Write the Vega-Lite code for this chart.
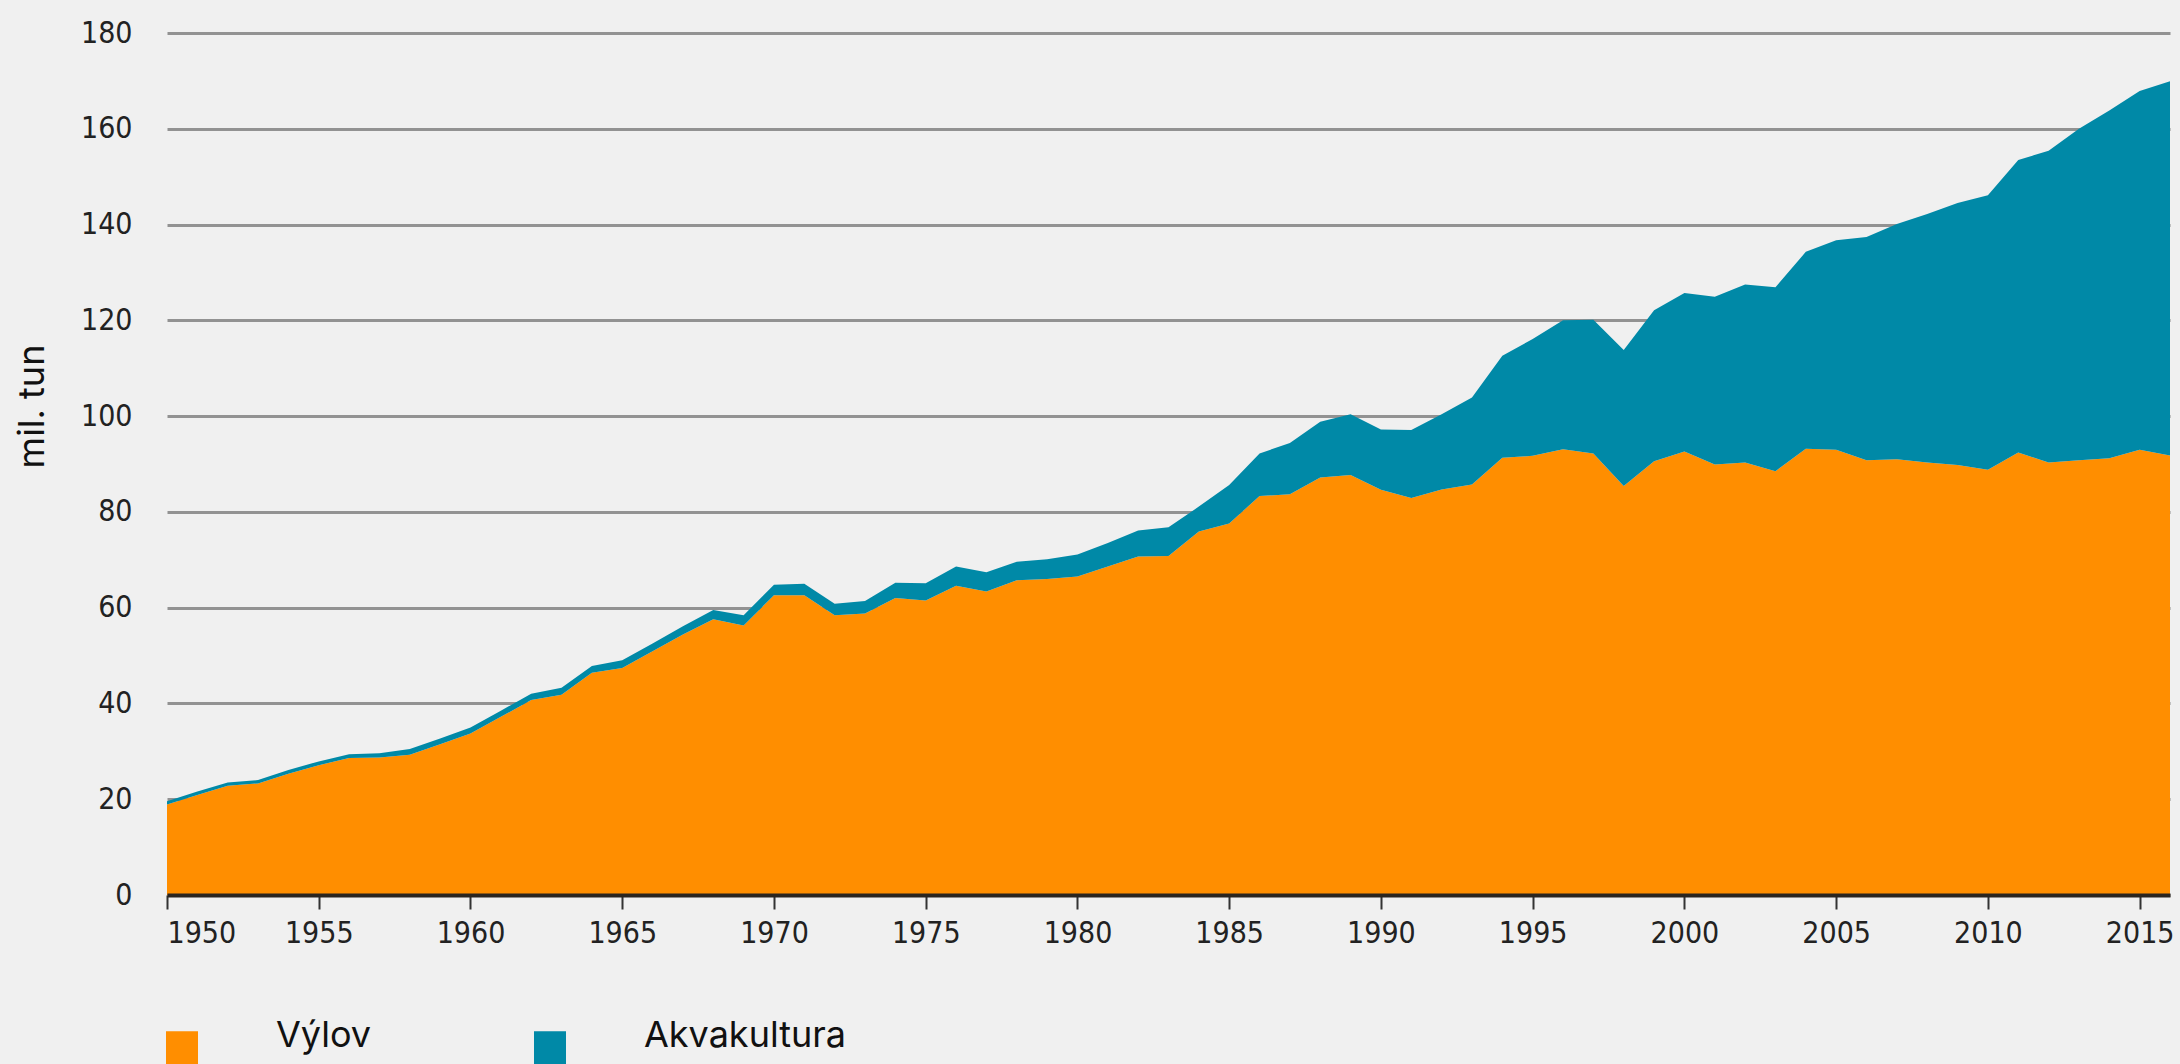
{
  "$schema": "https://vega.github.io/schema/vega-lite/v6.json",
  "autosize": {"type": "none"},
  "padding": {"left": 167, "top": 33, "right": 10, "bottom": 169},
  "width": 2003,
  "height": 862,
  "background": "#f0f0f0",
  "config": {"view": {"stroke": null}},
  "data": {
    "values": [
      {"rok": 1950, "Výlov": 18.9, "Akvakultura": 0.7},
      {"rok": 1951, "Výlov": 20.9, "Akvakultura": 0.7},
      {"rok": 1952, "Výlov": 22.8, "Akvakultura": 0.7},
      {"rok": 1953, "Výlov": 23.3, "Akvakultura": 0.7},
      {"rok": 1954, "Výlov": 25.3, "Akvakultura": 0.8},
      {"rok": 1955, "Výlov": 27.1, "Akvakultura": 0.8},
      {"rok": 1956, "Výlov": 28.6, "Akvakultura": 0.8},
      {"rok": 1957, "Výlov": 28.7, "Akvakultura": 0.9},
      {"rok": 1958, "Výlov": 29.3, "Akvakultura": 1.2},
      {"rok": 1959, "Výlov": 31.5, "Akvakultura": 1.2},
      {"rok": 1960, "Výlov": 33.7, "Akvakultura": 1.3},
      {"rok": 1961, "Výlov": 37.2, "Akvakultura": 1.3},
      {"rok": 1962, "Výlov": 40.7, "Akvakultura": 1.3},
      {"rok": 1963, "Výlov": 41.8, "Akvakultura": 1.5},
      {"rok": 1964, "Výlov": 46.4, "Akvakultura": 1.4},
      {"rok": 1965, "Výlov": 47.4, "Akvakultura": 1.6},
      {"rok": 1966, "Výlov": 50.9, "Akvakultura": 1.6},
      {"rok": 1967, "Výlov": 54.4, "Akvakultura": 1.7},
      {"rok": 1968, "Výlov": 57.6, "Akvakultura": 1.9},
      {"rok": 1969, "Výlov": 56.3, "Akvakultura": 2.1},
      {"rok": 1970, "Výlov": 62.6, "Akvakultura": 2.2},
      {"rok": 1971, "Výlov": 62.6, "Akvakultura": 2.4},
      {"rok": 1972, "Výlov": 58.4, "Akvakultura": 2.4},
      {"rok": 1973, "Výlov": 58.8, "Akvakultura": 2.6},
      {"rok": 1974, "Výlov": 62.0, "Akvakultura": 3.2},
      {"rok": 1975, "Výlov": 61.5, "Akvakultura": 3.6},
      {"rok": 1976, "Výlov": 64.6, "Akvakultura": 4.0},
      {"rok": 1977, "Výlov": 63.4, "Akvakultura": 4.0},
      {"rok": 1978, "Výlov": 65.7, "Akvakultura": 3.9},
      {"rok": 1979, "Výlov": 66.0, "Akvakultura": 4.1},
      {"rok": 1980, "Výlov": 66.5, "Akvakultura": 4.6},
      {"rok": 1981, "Výlov": 68.6, "Akvakultura": 4.9},
      {"rok": 1982, "Výlov": 70.7, "Akvakultura": 5.4},
      {"rok": 1983, "Výlov": 70.8, "Akvakultura": 6.0},
      {"rok": 1984, "Výlov": 75.9, "Akvakultura": 5.2},
      {"rok": 1985, "Výlov": 77.6, "Akvakultura": 8.0},
      {"rok": 1986, "Výlov": 83.3, "Akvakultura": 8.9},
      {"rok": 1987, "Výlov": 83.7, "Akvakultura": 10.7},
      {"rok": 1988, "Výlov": 87.2, "Akvakultura": 11.6},
      {"rok": 1989, "Výlov": 87.7, "Akvakultura": 12.7},
      {"rok": 1990, "Výlov": 84.6, "Akvakultura": 12.6},
      {"rok": 1991, "Výlov": 82.9, "Akvakultura": 14.2},
      {"rok": 1992, "Výlov": 84.7, "Akvakultura": 15.7},
      {"rok": 1993, "Výlov": 85.7, "Akvakultura": 18.2},
      {"rok": 1994, "Výlov": 91.3, "Akvakultura": 21.3},
      {"rok": 1995, "Výlov": 91.7, "Akvakultura": 24.4},
      {"rok": 1996, "Výlov": 93.1, "Akvakultura": 26.9},
      {"rok": 1997, "Výlov": 92.2, "Akvakultura": 27.9},
      {"rok": 1998, "Výlov": 85.4, "Akvakultura": 28.4},
      {"rok": 1999, "Výlov": 90.6, "Akvakultura": 31.5},
      {"rok": 2000, "Výlov": 92.6, "Akvakultura": 33.1},
      {"rok": 2001, "Výlov": 89.9, "Akvakultura": 35.0},
      {"rok": 2002, "Výlov": 90.3, "Akvakultura": 37.2},
      {"rok": 2003, "Výlov": 88.5, "Akvakultura": 38.4},
      {"rok": 2004, "Výlov": 93.2, "Akvakultura": 41.1},
      {"rok": 2005, "Výlov": 93.0, "Akvakultura": 43.7},
      {"rok": 2006, "Výlov": 90.8, "Akvakultura": 46.6},
      {"rok": 2007, "Výlov": 91.0, "Akvakultura": 49.1},
      {"rok": 2008, "Výlov": 90.3, "Akvakultura": 51.9},
      {"rok": 2009, "Výlov": 89.8, "Akvakultura": 54.7},
      {"rok": 2010, "Výlov": 88.8, "Akvakultura": 57.3},
      {"rok": 2011, "Výlov": 92.4, "Akvakultura": 61.1},
      {"rok": 2012, "Výlov": 90.3, "Akvakultura": 65.1},
      {"rok": 2013, "Výlov": 90.8, "Akvakultura": 69.2},
      {"rok": 2014, "Výlov": 91.2, "Akvakultura": 72.6},
      {"rok": 2015, "Výlov": 93.0, "Akvakultura": 74.9},
      {"rok": 2016, "Výlov": 91.8, "Akvakultura": 78.1}
    ]
  },
  "transform": [{"fold": ["Výlov", "Akvakultura"], "as": ["typ", "hodnota"]}],
  "mark": {"type": "area", "interpolate": "linear", "opacity": 1},
  "encoding": {
    "x": {
      "field": "rok",
      "type": "quantitative",
      "scale": {"domain": [1950, 2016], "nice": false, "zero": false},
      "axis": {
        "title": null,
        "values": [1950, 1955, 1960, 1965, 1970, 1975, 1980, 1985, 1990, 1995, 2000, 2005, 2010, 2015],
        "format": "d",
        "grid": false,
        "zindex": 1,
        "domain": true,
        "domainColor": "#2a2520",
        "domainWidth": 4,
        "ticks": true,
        "tickColor": "#333333",
        "tickWidth": 2,
        "tickSize": 14,
        "labelFont": "Liberation Sans Narrow, DejaVu Sans Condensed, sans-serif",
        "labelFontSize": 30,
        "labelColor": "#222222",
        "labelPadding": 9,
        "labelBaseline": "top"
      }
    },
    "y": {
      "field": "hodnota",
      "type": "quantitative",
      "stack": "zero",
      "scale": {"domain": [0, 180], "nice": false},
      "axis": {
        "title": "mil. tun",
        "titleFont": "Inter",
        "titleFontSize": 36,
        "titleFontWeight": "normal",
        "titleColor": "#111111",
        "titleAngle": -90,
        "titleAlign": "center",
        "titleBaseline": "alphabetic",
        "titleX": -124,
        "titleY": 373,
        "values": [0, 20, 40, 60, 80, 100, 120, 140, 160, 180],
        "domain": false,
        "ticks": false,
        "tickSize": 0,
        "grid": true,
        "gridColor": "#929292",
        "gridWidth": 3,
        "labelFont": "Liberation Sans Narrow, DejaVu Sans Condensed, sans-serif",
        "labelFontSize": 30,
        "labelColor": "#222222",
        "labelPadding": 35,
        "zindex": 0
      }
    },
    "color": {
      "field": "typ",
      "type": "nominal",
      "scale": {"domain": ["Výlov", "Akvakultura"], "range": ["#ff8e00", "#0089a7"]},
      "legend": {
        "orient": "none",
        "legendX": -3,
        "legendY": 996,
        "direction": "horizontal",
        "title": null,
        "padding": 0,
        "symbolType": "M-1,-1H1V1.4H-1Z",
        "symbolSize": 1024,
        "symbolStrokeWidth": 0,
        "symbolOpacity": 1,
        "labelFont": "Inter",
        "labelFontSize": 36,
        "labelColor": "#111111",
        "labelOffset": 76,
        "labelLimit": 400,
        "labelBaseline": "alphabetic",
        "columnPadding": 160
      }
    },
    "order": {"field": "typ", "sort": "descending"}
  }
}
